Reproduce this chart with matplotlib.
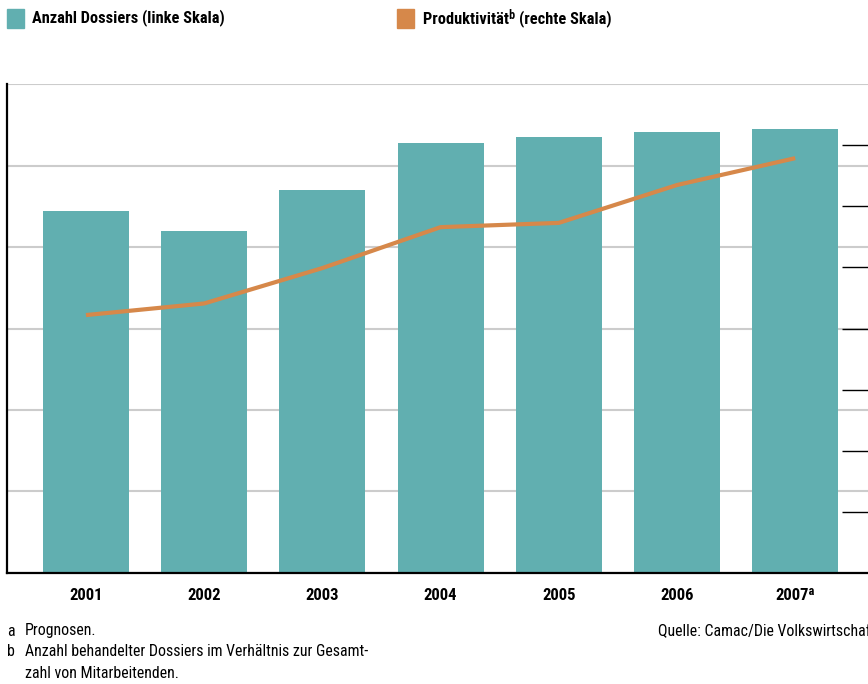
import matplotlib.pyplot as plt
import numpy as np

# Data (axis labels are cropped in the source)
years = ["2001", "2002", "2003", "2004", "2005", "2006", "2007ᵃ"]
dossiers = [4440, 4200, 4700, 5280, 5350, 5410, 5450]        # left scale
produktivitaet = [4.22, 4.41, 4.99, 5.66, 5.73, 6.35, 6.79]  # right scale

teal = "#61AFB0"
orange = "#D6884A"
plt.rcParams["font.family"] = ["Roboto Condensed", "DejaVu Sans"]

W, H = 868, 684
fig = plt.figure(figsize=(W / 100, H / 100), dpi=100)
ax = fig.add_axes([7 / W, (H - 572.7) / H, 1 - 7 / W, (572.7 - 84.3) / H])

x = np.arange(len(years))
ax.bar(x, dossiers, width=0.728, color=teal, zorder=2)
ax.set_xlim(-0.668, 6.616)
ax.set_ylim(0, 6000)
ax.set_yticks(np.arange(0, 6001, 1000))
ax.yaxis.grid(True, color="#CCCCCC", linewidth=1.5, zorder=0)
ax.tick_params(axis="y", length=0, labelleft=False)
ax.set_xticks(x)
ax.set_xticklabels(years, fontsize=12, fontweight="bold")
ax.tick_params(axis="x", length=0, pad=11)
for s in ["top", "right"]:
    ax.spines[s].set_visible(False)
ax.spines["left"].set_linewidth(1.6)
ax.spines["bottom"].set_linewidth(1.6)

ax2 = ax.twinx()
ax2.plot(x, produktivitaet, color=orange, linewidth=3, solid_capstyle="butt", zorder=3)
ax2.set_ylim(0, 8)
ax2.set_yticks(np.arange(1, 8))
ax2.tick_params(axis="y", direction="in", length=18.7, width=1.0, color="black",
                labelright=False)
for s in ["top", "right", "left", "bottom"]:
    ax2.spines[s].set_visible(False)

# Legend
fig.patches.append(plt.Rectangle((7 / W, 1 - 28 / H), 17 / W, 19 / H,
                                 transform=fig.transFigure, color=teal))
fig.text(32 / W, 1 - 18 / H, "Anzahl Dossiers (linke Skala)", fontsize=11.8,
         fontweight="bold", va="center")
fig.patches.append(plt.Rectangle((397 / W, 1 - 28 / H), 17 / W, 19 / H,
                                 transform=fig.transFigure, color=orange))
fig.text(423 / W, 1 - 18 / H, "Produktivitätᵇ (rechte Skala)", fontsize=11.8,
         fontweight="bold", va="center")

# Footnotes
fs = 11.4
fig.text(7 / W, 1 - 631 / H, "a", fontsize=fs, va="center")
fig.text(25 / W, 1 - 631 / H, "Prognosen.", fontsize=fs, va="center")
fig.text(7 / W, 1 - 652 / H, "b", fontsize=fs, va="center")
fig.text(25 / W, 1 - 652 / H, "Anzahl behandelter Dossiers im Verhältnis zur Gesamt-",
         fontsize=fs, va="center")
fig.text(25 / W, 1 - 673 / H, "zahl von Mitarbeitenden.", fontsize=fs, va="center")
fig.text(658 / W, 1 - 631 / H, "Quelle: Camac/Die Volkswirtschaft", fontsize=fs,
         va="center")

fig.savefig("out.png", dpi=100)
